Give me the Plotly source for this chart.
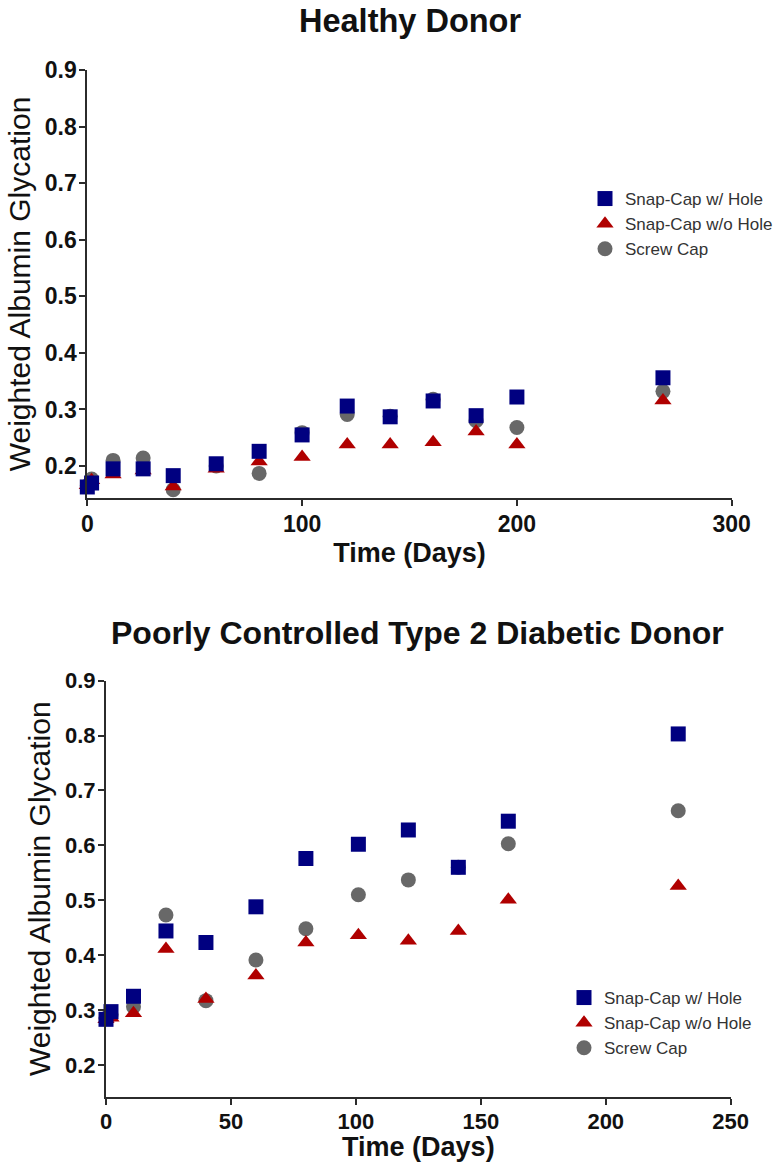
import plotly.graph_objects as go

# Sampling days and weighted albumin glycation, healthy donor
days_healthy = [0, 2, 12, 26, 40, 60, 80, 100, 121, 141, 161, 181, 200, 268]
snap_hole_healthy = [0.163, 0.170, 0.195, 0.195, 0.183, 0.204, 0.226, 0.255, 0.306, 0.287, 0.315, 0.289, 0.322, 0.356]
snap_nohole_healthy = [0.166, 0.175, 0.185, 0.192, 0.164, 0.195, 0.208, 0.216, 0.238, 0.238, 0.242, 0.261, 0.238, 0.316]
screw_healthy = [0.165, 0.177, 0.210, 0.214, 0.158, 0.200, 0.187, 0.259, 0.291, 0.288, 0.318, 0.280, 0.268, 0.332]

# Sampling days and weighted albumin glycation, poorly controlled type 2 diabetic donor
days_diabetic = [0, 2, 11, 24, 40, 60, 80, 101, 121, 141, 161, 229]
snap_hole_diabetic = [0.283, 0.297, 0.325, 0.444, 0.423, 0.488, 0.576, 0.602, 0.628, 0.560, 0.644, 0.803]
snap_nohole_diabetic = [0.283, 0.286, 0.294, 0.411, 0.320, 0.363, 0.423, 0.436, 0.426, 0.444, 0.501, 0.526]
screw_diabetic = [0.285, 0.292, 0.306, 0.473, 0.317, 0.391, 0.448, 0.510, 0.537, 0.560, 0.603, 0.663]

series_names = ["Snap-Cap w/ Hole", "Snap-Cap w/o Hole", "Screw Cap"]
y_ticks = [0.2, 0.3, 0.4, 0.5, 0.6, 0.7, 0.8, 0.9]
x_ticks_healthy = [0, 100, 200, 300]
x_ticks_diabetic = [0, 50, 100, 150, 200, 250]

panel_titles = ["Healthy Donor", "Poorly Controlled Type 2 Diabetic Donor"]
x_title = "Time (Days)"
y_title = "Weighted Albumin Glycation"

NAVY = "#000080"
RED = "#B00000"
GRAY = "#686868"
AXIS = "#2b2b2b"
INK = "#111111"
FONT = "Liberation Sans, Arial, sans-serif"

W, H = 775, 1162

fig = go.Figure()


def add_panel(days, hole, nohole, screw, xa, ya, legend):
    # screw cap drawn first, then snap-cap without hole, then with hole on top
    specs = [
        (screw, series_names[2], "circle", GRAY, 15, 3),
        (nohole, series_names[1], "triangle-up", RED, 15, 2),
        (hole, series_names[0], "square", NAVY, 15, 1),
    ]
    for vals, name, sym, col, size, rank in specs:
        fig.add_trace(go.Scatter(
            x=days, y=vals, name=name, mode="markers",
            marker=dict(symbol=sym, color=col, size=size, line=dict(width=0)),
            xaxis=xa, yaxis=ya, legend=legend, legendrank=rank,
            cliponaxis=False,
        ))


add_panel(days_healthy, snap_hole_healthy, snap_nohole_healthy, screw_healthy, "x", "y", "legend")
add_panel(days_diabetic, snap_hole_diabetic, snap_nohole_diabetic, screw_diabetic, "x2", "y2", "legend2")


def axis_common(tick_size):
    return dict(
        automargin=False,
        showline=True, linewidth=2, linecolor=AXIS,
        ticks="outside", ticklen=6, tickwidth=2, tickcolor=AXIS,
        ticklabelstandoff=-2,
        showgrid=False, zeroline=False,
        tickfont=dict(family=FONT, size=tick_size, color=INK, weight="bold"),
    )


def x_title_spec(standoff):
    return dict(text=x_title, standoff=standoff,
                font=dict(family=FONT, size=27, weight="bold", color=INK))


def y_title_spec(standoff):
    return dict(text=y_title, standoff=standoff,
                font=dict(family=FONT, size=30, color=INK))


# pixel geometry of the two plot areas
top_px = dict(l=87.3, r=731.7, t=70, b=498)
bot_px = dict(l=106, r=730.7, t=680.7, b=1096.7)

fig.update_layout(
    template="none",
    width=W, height=H,
    margin=dict(l=0, r=0, t=0, b=0, autoexpand=False),
    paper_bgcolor="white", plot_bgcolor="white",
    font=dict(family=FONT, color=INK),
    xaxis=dict(domain=[top_px["l"] / W, top_px["r"] / W], range=[0, 300],
               tickvals=x_ticks_healthy, anchor="y",
               title=x_title_spec(8), **axis_common(23)),
    yaxis=dict(domain=[1 - top_px["b"] / H, 1 - top_px["t"] / H], range=[0.1435, 0.9],
               tickvals=y_ticks, tickformat=".1f", anchor="x",
               title=y_title_spec(5), **axis_common(23)),
    xaxis2=dict(domain=[bot_px["l"] / W, bot_px["r"] / W], range=[0, 250],
                tickvals=x_ticks_diabetic, anchor="y2",
                title=x_title_spec(6), **axis_common(22)),
    yaxis2=dict(domain=[1 - bot_px["b"] / H, 1 - bot_px["t"] / H], range=[0.142, 0.9],
                tickvals=y_ticks, tickformat=".1f", anchor="x2",
                title=y_title_spec(5), **axis_common(22)),
    legend=dict(x=585 / W, y=1 - 181 / H, xanchor="left", yanchor="top",
                bgcolor="rgba(0,0,0,0)", borderwidth=0,
                font=dict(family=FONT, size=17, color="#333333")),
    legend2=dict(x=564 / W, y=1 - 980 / H, xanchor="left", yanchor="top",
                 bgcolor="rgba(0,0,0,0)", borderwidth=0,
                 font=dict(family=FONT, size=17, color="#333333")),
    showlegend=True,
)

# panel headings
for text, xc, yc, size in [(panel_titles[0], 409.5, 21, 32.5), (panel_titles[1], 417.5, 633, 32)]:
    fig.add_annotation(
        text=text, x=xc / W, y=1 - yc / H, xref="paper", yref="paper",
        xanchor="center", yanchor="middle", showarrow=False,
        font=dict(family=FONT, size=size, weight="bold", color=INK),
    )

fig.write_html("out.html")
